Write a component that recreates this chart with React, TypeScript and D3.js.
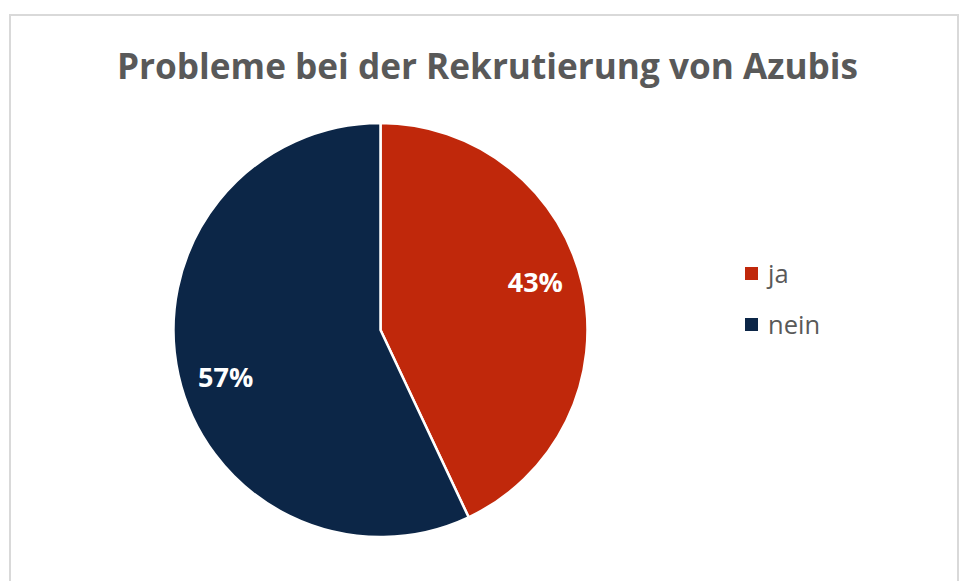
import React from "react";
import * as d3 from "d3";

const categories = ["ja", "nein"];
const values = [43, 57];
const labels = ["43%", "57%"];
const colors = ["#C0280B", "#0C2647"];
const title = "Probleme bei der Rekrutierung von Azubis";

const W = 959;
const H = 581;

export default function App() {
  const cx = 380.5;
  const cy = 330;
  const r = 207;
  const pie = d3.pie<number>().sort(null).value((d) => d)(values);
  const arc = d3.arc<d3.PieArcDatum<number>>().innerRadius(0).outerRadius(r);
  const labelR = 162;
  const angOff = -4.5 * (Math.PI / 180);

  return (
    <svg
      width={W}
      height={H}
      style={{ position: "absolute", left: 0, top: 0, background: "#fff" }}
      fontFamily="'Open Sans', sans-serif"
    >
      <rect x={0} y={0} width={W} height={H} fill="#fff" />
      <rect x={10} y={15} width={948} height={H + 20} fill="none" stroke="#d9d9d9" strokeWidth={2} />
      <text
        x={487.5}
        y={79}
        textAnchor="middle"
        fontSize={35}
        fontWeight="bold"
        fill="#595959"
        textLength={741}
        lengthAdjust="spacingAndGlyphs"
      >
        {title}
      </text>
      <g transform={`translate(${cx},${cy})`}>
        {pie.map((p, i) => (
          <path key={categories[i]} d={arc(p) || ""} fill={colors[i]} stroke="#fff" strokeWidth={2.5} strokeLinejoin="round" />
        ))}
        {pie.map((p, i) => {
          const a = (p.startAngle + p.endAngle) / 2 + angOff;
          const x = Math.sin(a) * labelR;
          const y = -Math.cos(a) * labelR;
          return (
            <text
              key={"l" + i}
              x={x}
              y={y}
              dy="0.36em"
              textAnchor="middle"
              fontSize={27}
              fontWeight="bold"
              fill="#fff"
            >
              {labels[i]}
            </text>
          );
        })}
      </g>
      <g>
        {categories.map((c, i) => (
          <g key={c} transform={`translate(745,${267 + i * 51})`}>
            <rect x={0} y={0} width={13} height={13} fill={colors[i]} />
            <text x={23} y={6.5} dy="0.36em" fontSize={25.5} fill="#595959">
              {c}
            </text>
          </g>
        ))}
      </g>
    </svg>
  );
}
